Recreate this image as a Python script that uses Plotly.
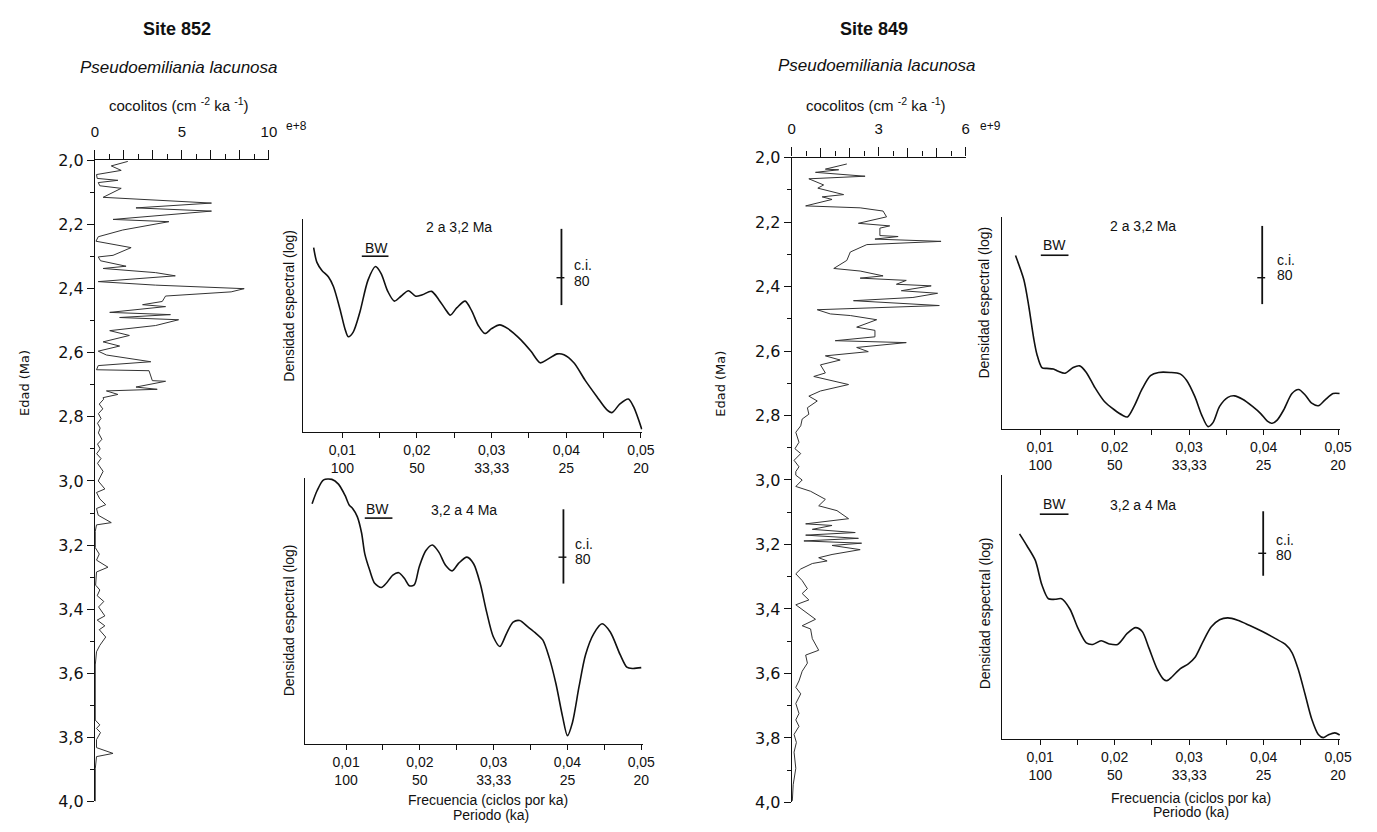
import plotly.graph_objects as go

# ---------------- DATA ----------------
# Site 852 record: age (Ma) and coccolith flux (x1e8 cm-2 ka-1)
site852_age = [2.003, 2.017, 2.031, 2.044, 2.056, 2.062, 2.069, 2.079, 2.087, 2.115,
               2.133, 2.148, 2.158, 2.184, 2.191, 2.217, 2.238, 2.252, 2.272, 2.296,
               2.301, 2.313, 2.330, 2.337, 2.350, 2.360, 2.378, 2.389, 2.400, 2.410,
               2.423, 2.440, 2.450, 2.456, 2.474, 2.481, 2.490, 2.497, 2.515, 2.531,
               2.546, 2.566, 2.579, 2.595, 2.607, 2.628, 2.640, 2.653, 2.656, 2.687,
               2.689, 2.707, 2.714, 2.719, 2.730, 2.740, 2.745, 2.760, 2.775, 2.790,
               2.805, 2.820, 2.835, 2.850, 2.870, 2.885, 2.900, 2.915, 2.930, 2.945,
               2.970, 3.000, 3.025, 3.036, 3.056, 3.074, 3.086, 3.107, 3.130, 3.137,
               3.157, 3.208, 3.228, 3.247, 3.269, 3.284, 3.325, 3.340, 3.358, 3.376,
               3.393, 3.421, 3.434, 3.452, 3.464, 3.487, 3.513, 3.533, 3.574, 3.746,
               3.761, 3.772, 3.785, 3.807, 3.832, 3.850, 3.860, 3.898, 4.000]
site852_val = [1.89, 0.94, 1.51, 0.09, 0.13, 1.32, 0.19, 0.28, 1.51, 0.47,
               6.70, 2.36, 6.70, 1.04, 4.25, 1.60, 0.19, 0.06, 2.08, 1.04,
               0.19, 0.32, 1.79, 0.47, 3.49, 4.62, 0.19, 3.49, 8.58, 7.83,
               4.06, 3.87, 2.74, 4.06, 0.85, 4.34, 1.42, 4.81, 3.49, 0.85,
               1.98, 0.47, 1.42, 0.19, 0.66, 3.21, 0.19, 0.09, 3.11, 3.30,
               4.06, 2.36, 3.58, 0.66, 1.32, 0.47, 0.50, 0.25, 0.45, 0.20,
               0.35, 0.15, 0.30, 0.20, 0.40, 0.15, 0.30, 0.10, 0.35, 0.15,
               0.47, 0.19, 0.57, 0.09, 0.28, 0.62, 0.09, 0.19, 0.94, 0.09,
               0.02, 0.02, 0.25, 0.09, 0.75, 0.09, 0.04, 0.28, 0.13, 0.51,
               0.21, 0.57, 0.13, 0.57, 0.25, 0.62, 0.28, 0.09, 0.02, 0.02,
               0.28, 0.09, 0.32, 0.09, 0.09, 1.04, 0.09, 0.02, 0.02]

# Site 849 record: age (Ma) and coccolith flux (x1e9 cm-2 ka-1)
site849_age = [2.020, 2.036, 2.038, 2.046, 2.058, 2.066, 2.085, 2.095, 2.115, 2.122,
               2.130, 2.150, 2.156, 2.166, 2.184, 2.204, 2.212, 2.219, 2.242, 2.245,
               2.253, 2.260, 2.270, 2.293, 2.319, 2.344, 2.352, 2.367, 2.374, 2.381,
               2.393, 2.398, 2.413, 2.421, 2.434, 2.444, 2.459, 2.472, 2.485, 2.490,
               2.503, 2.526, 2.536, 2.556, 2.568, 2.574, 2.589, 2.602, 2.615, 2.628,
               2.643, 2.668, 2.679, 2.704, 2.724, 2.740, 2.755, 2.776, 2.796, 2.811,
               2.832, 2.852, 2.883, 2.903, 2.918, 2.939, 2.959, 2.974, 2.985, 3.000,
               3.020, 3.035, 3.060, 3.080, 3.095, 3.120, 3.136, 3.141, 3.153, 3.163,
               3.171, 3.181, 3.189, 3.196, 3.203, 3.216, 3.231, 3.241, 3.251, 3.259,
               3.276, 3.291, 3.312, 3.337, 3.352, 3.372, 3.387, 3.432, 3.452, 3.462,
               3.492, 3.528, 3.543, 3.568, 3.593, 3.623, 3.643, 3.663, 3.693, 3.724,
               3.744, 3.764, 3.789, 3.814, 3.844, 3.894, 3.945, 3.995]
site849_val = [1.90, 1.16, 1.62, 0.82, 2.53, 0.59, 1.10, 0.90, 1.79, 1.05,
               1.39, 0.48, 2.36, 3.15, 3.27, 2.30, 3.38, 3.04, 3.04, 3.67,
               2.87, 5.15, 2.59, 2.02, 1.90, 1.45, 2.36, 3.15, 2.36, 3.95,
               3.61, 4.81, 3.78, 5.03, 4.18, 2.13, 5.09, 0.88, 1.33, 2.02,
               2.93, 2.24, 2.87, 2.87, 1.50, 3.95, 2.24, 2.64, 1.16, 1.67,
               0.99, 1.16, 0.76, 1.96, 0.99, 0.59, 0.88, 0.54, 0.59, 0.36,
               0.31, 0.14, 0.25, 0.11, 0.31, 0.08, 0.25, 0.14, 0.14, 0.36,
               0.14, 0.65, 1.16, 0.93, 1.56, 1.96, 0.48, 1.39, 0.71, 2.19,
               0.48, 2.30, 0.42, 2.41, 1.39, 2.36, 1.39, 0.93, 1.22, 0.71,
               0.31, 0.14, 0.36, 0.54, 0.36, 0.59, 0.14, 0.82, 0.36, 0.65,
               0.71, 0.93, 0.48, 0.54, 0.36, 0.25, 0.14, 0.31, 0.14, 0.25,
               0.14, 0.25, 0.08, 0.16, 0.08, 0.14, 0.05, 0.02]

# Spectra (relative log spectral density, 0-100 of panel height)
spec852a_f = [0.00616, 0.0066, 0.00727, 0.00815, 0.00881, 0.00969, 0.01035, 0.0108, 0.01146, 0.01234,
              0.01344, 0.01445, 0.0152, 0.01609, 0.01697, 0.01785, 0.01886, 0.01983, 0.02072, 0.02195,
              0.02292, 0.0238, 0.02446, 0.02535, 0.02645, 0.02733, 0.02821, 0.0291, 0.02998, 0.03108,
              0.03218, 0.03395, 0.03527, 0.0365, 0.03747, 0.0388, 0.03968, 0.04101, 0.04255, 0.0441,
              0.04541, 0.0461, 0.04718, 0.0483, 0.0490, 0.0501]
spec852a_v = [87.0, 80.1, 76.3, 73.2, 68.7, 58.0, 48.8, 45.0, 47.2, 56.4,
              71.7, 78.1, 74.8, 66.4, 61.8, 64.1, 66.7, 64.1, 64.8, 66.4,
              62.5, 58.0, 55.2, 58.7, 61.8, 57.2, 50.3, 46.5, 48.8, 50.6,
              48.8, 43.4, 38.1, 32.7, 34.3, 36.9, 36.5, 32.7, 24.3, 16.7,
              10.6, 9.2, 13.3, 15.6, 12.0, 1.4]

spec852b_f = [0.0054, 0.00607, 0.00696, 0.00808, 0.00897, 0.00987, 0.01045, 0.01089, 0.01152, 0.0121,
              0.01254, 0.01321, 0.01388, 0.01478, 0.01545, 0.01634, 0.01714, 0.0179, 0.01857, 0.01924,
              0.01991, 0.0208, 0.0217, 0.02259, 0.02348, 0.02437, 0.02527, 0.02638, 0.02728, 0.02817,
              0.02906, 0.02995, 0.03085, 0.03174, 0.03263, 0.03353, 0.03464, 0.03576, 0.03665, 0.03754,
              0.03844, 0.03933, 0.0400, 0.04067, 0.04156, 0.04245, 0.04357, 0.04469, 0.0458, 0.04714,
              0.04804, 0.0488, 0.0500]
spec852b_v = [90.8, 95.7, 99.8, 100.0, 98.2, 93.9, 90.2, 89.0, 85.9, 79.8,
              71.8, 65.6, 60.7, 59.1, 60.7, 63.8, 64.7, 62.6, 59.8, 60.1,
              66.9, 73.0, 75.2, 72.4, 67.5, 65.4, 68.3, 70.6, 68.1, 60.7,
              49.7, 40.5, 36.8, 41.7, 46.0, 46.6, 44.2, 41.7, 39.3, 32.5,
              22.7, 10.4, 3.1, 8.0, 21.5, 33.7, 41.7, 45.4, 42.3, 33.7,
              29.0, 28.5, 28.8]

spec849a_f = [0.00668, 0.0078, 0.00845, 0.00912, 0.00956, 0.01022, 0.01088, 0.01177, 0.01243, 0.01332,
              0.01442, 0.0153, 0.01619, 0.01729, 0.01862, 0.01994, 0.02105, 0.02171, 0.0226, 0.0237,
              0.02481, 0.02591, 0.02746, 0.02878, 0.02967, 0.03077, 0.03166, 0.03254, 0.0332, 0.03409,
              0.0352, 0.03608, 0.03718, 0.03851, 0.03961, 0.0405, 0.04116, 0.04182, 0.04271, 0.04381,
              0.0447, 0.04558, 0.04646, 0.04735, 0.04823, 0.04934, 0.05020]
spec849a_v = [82.3, 70.8, 58.5, 43.1, 35.4, 29.2, 28.8, 28.5, 27.4, 26.5,
              29.2, 30.0, 26.9, 20.0, 13.1, 9.2, 6.6, 5.8, 10.8, 19.2,
              25.4, 26.9, 26.9, 26.2, 23.1, 15.4, 6.9, 1.2, 3.1, 10.8,
              15.1, 15.8, 14.2, 10.8, 7.4, 3.8, 2.8, 4.3, 9.2, 16.9,
              18.8, 16.2, 12.3, 11.1, 13.8, 16.9, 16.9]

spec849b_f = [0.00722, 0.00823, 0.00934, 0.01022, 0.0111, 0.01199, 0.01287, 0.01398, 0.01508, 0.01619,
              0.01707, 0.01818, 0.01928, 0.02039, 0.02171, 0.02282, 0.0237, 0.02459, 0.02569, 0.02657,
              0.02702, 0.02768, 0.02878, 0.02989, 0.03077, 0.03188, 0.03298, 0.03409, 0.0352, 0.03652,
              0.03807, 0.03984, 0.0416, 0.04293, 0.04381, 0.0447, 0.04558, 0.04646, 0.04735, 0.04801,
              0.04867, 0.04956, 0.05022]
spec849b_v = [78.1, 73.5, 68.0, 58.7, 53.4, 53.2, 53.4, 49.5, 42.1, 36.6,
              36.0, 37.4, 36.2, 36.0, 40.3, 42.4, 40.9, 34.7, 26.7, 22.7,
              22.2, 23.6, 26.7, 28.6, 31.0, 37.2, 42.7, 45.4, 46.1, 45.2,
              43.3, 40.9, 38.2, 36.0, 32.9, 26.1, 16.9, 7.6, 1.7, 0.5,
              1.5, 2.3, 1.5]

freq_ticks = [0.01, 0.02, 0.03, 0.04, 0.05]
freq_labels = ["0,01<br>100", "0,02<br>50", "0,03<br>33,33", "0,04<br>25", "0,05<br>20"]
freq_minor = [0.015, 0.025, 0.035, 0.045]

flux852_labeled = [0, 5, 10]
flux852_tall = [10/6, 20/6, 40/6, 50/6]
flux852_short = [5/6, 15/6, 25/6, 35/6, 45/6, 55/6]
flux849_labeled = [0, 3, 6]
flux849_tall = [1, 2, 4, 5]
flux849_short = [0.5, 1.5, 2.5, 3.5, 4.5, 5.5]

# ---------------- LAYOUT HELPERS ----------------
W, H = 1377, 832
def PX(x): return x / W
def PY(y): return 1 - y / H

SANS = "Liberation Sans, Arial, sans-serif"
DJV = "DejaVu Sans, Verdana, sans-serif"
INK = "#111111"

fig = go.Figure()

# records
fig.add_trace(go.Scatter(x=site852_val, y=site852_age, mode="lines",
                         line=dict(color="#333333", width=1), xaxis="x", yaxis="y",
                         showlegend=False, hoverinfo="skip"))
fig.add_trace(go.Scatter(x=site849_val, y=site849_age, mode="lines",
                         line=dict(color="#333333", width=1), xaxis="x4", yaxis="y4",
                         showlegend=False, hoverinfo="skip"))
# invisible carriers for the tall-tick overlay axes
fig.add_trace(go.Scatter(x=[None], y=[None], xaxis="x7", yaxis="y", showlegend=False, hoverinfo="skip"))
fig.add_trace(go.Scatter(x=[None], y=[None], xaxis="x8", yaxis="y4", showlegend=False, hoverinfo="skip"))
# spectra
for fx, fv, xa, ya in [(spec852a_f, spec852a_v, "x2", "y2"),
                       (spec852b_f, spec852b_v, "x3", "y3"),
                       (spec849a_f, spec849a_v, "x5", "y5"),
                       (spec849b_f, spec849b_v, "x6", "y6")]:
    fig.add_trace(go.Scatter(x=fx, y=fv, mode="lines",
                             line=dict(color="#111111", width=1.6, shape="spline", smoothing=0.8),
                             xaxis=xa, yaxis=ya, showlegend=False, hoverinfo="skip"))

def rec_x(dom_px, rng, tv, minor, anchor):
    return dict(domain=[PX(dom_px[0]), PX(dom_px[1])], range=rng, side="top", anchor=anchor,
                showline=True, linecolor=INK, linewidth=1.2, showgrid=False, zeroline=False,
                ticks="outside", ticklen=9, tickcolor=INK, tickwidth=1.2,
                tickvals=tv, ticktext=[str(v) for v in tv], ticklabelstandoff=7,
                minor=dict(tickvals=minor, ticks="outside", ticklen=5, tickcolor=INK, tickwidth=1.2),
                tickfont=dict(family=SANS, size=15, color=INK), fixedrange=True)

def tall_x(overlay, rng, tv, anchor):
    return dict(overlaying=overlay, range=rng, side="top", anchor=anchor,
                showline=False, showgrid=False, zeroline=False,
                ticks="outside", ticklen=9, tickcolor=INK, tickwidth=1.2,
                tickvals=tv, showticklabels=False, fixedrange=True)

def rec_y(dom_px, anchor):
    return dict(domain=[PY(dom_px[1]), PY(dom_px[0])], range=[4.0, 2.0], anchor=anchor,
                showline=True, linecolor=INK, linewidth=1.2, showgrid=False, zeroline=False,
                ticks="outside", ticklen=7, tickcolor=INK, tickwidth=1.2,
                tick0=2.0, dtick=0.2, tickformat=".1f",
                minor=dict(dtick=0.1, ticks="outside", ticklen=4, tickcolor=INK, tickwidth=1.2),
                tickfont=dict(family=DJV, size=16, color=INK), fixedrange=True)

def spec_x(dom_px, rng, anchor):
    return dict(domain=[PX(dom_px[0]), PX(dom_px[1])], range=rng, anchor=anchor,
                showline=True, linecolor=INK, linewidth=1.2, showgrid=False, zeroline=False,
                ticks="outside", ticklen=5, tickcolor=INK, tickwidth=1.2,
                tickvals=freq_ticks, ticktext=freq_labels,
                minor=dict(tickvals=freq_minor, ticks="outside", ticklen=5, tickcolor=INK, tickwidth=1.2),
                tickfont=dict(family=SANS, size=14, color=INK), fixedrange=True)

def spec_y(dom_px, anchor):
    return dict(domain=[PY(dom_px[1]), PY(dom_px[0])], range=[0, 100.5], anchor=anchor,
                showline=True, linecolor=INK, linewidth=1.2, showgrid=False, zeroline=False,
                showticklabels=False, ticks="", fixedrange=True)

layout = dict(
    width=W, height=H, margin=dict(l=0, r=0, t=0, b=0),
    paper_bgcolor="white", plot_bgcolor="white", separators=",.",
    xaxis=rec_x((92, 268), [0, 10], flux852_labeled, flux852_short, "y"),
    yaxis=rec_y((155, 811), "x"),
    xaxis7=tall_x("x", [0, 10], flux852_tall, "y"),
    xaxis2=spec_x((303, 646), [0.0048, 0.0502], "y2"),
    yaxis2=spec_y((215, 433), "x2"),
    xaxis3=spec_x((305, 647), [0.0045, 0.0503], "y3"),
    yaxis3=spec_y((480, 752), "x3"),
    xaxis4=rec_x((797, 973), [0, 6], flux849_labeled, flux849_short, "y4"),
    yaxis4=rec_y((152, 812), "x4"),
    xaxis8=tall_x("x4", [0, 6], flux849_tall, "y4"),
    xaxis5=spec_x((1010, 1352), [0.0049, 0.0503], "y5"),
    yaxis5=spec_y((213, 430), "x5"),
    xaxis6=spec_x((1010, 1352), [0.0049, 0.0503], "y6"),
    yaxis6=spec_y((477, 747), "x6"),
)
fig.update_layout(**layout)

ann = []
def T(text, x, y, size, xanchor="center", family=SANS, angle=0):
    ann.append(dict(text=text, x=PX(x), y=PY(y), xref="paper", yref="paper",
                    xanchor=xanchor, yanchor="middle", showarrow=False, textangle=angle,
                    font=dict(family=family, size=size, color=INK)))

T("<b>Site 852</b>", 175, 20, 18)
T("<i>Pseudoemiliania lacunosa</i>", 177, 60, 17)
T("cocolitos (cm <sup>-2</sup> ka <sup>-1</sup>)", 177, 98, 15)
T("e+8", 283, 120, 12, xanchor="left")
T("Edad (Ma)", 20, 383, 13, family=DJV, angle=-90)

T("<b>Site 849</b>", 880, 20, 18)
T("<i>Pseudoemiliania lacunosa</i>", 883, 58, 17)
T("cocolitos (cm <sup>-2</sup> ka <sup>-1</sup>)", 882, 98, 15)
T("e+9", 985, 120, 12, xanchor="left")
T("Edad (Ma)", 725, 384, 13, family=DJV, angle=-90)

for x, y in [(288, 304), (288, 626), (992, 300), (992, 618)]:
    T("Densidad espectral (log)", x, y, 14, angle=-90)

T("2 a 3,2 Ma", 460, 223, 14)
T("3,2 a 4 Ma", 465, 513, 14)
T("2 a 3,2 Ma", 1152, 222, 14)
T("3,2 a 4 Ma", 1152, 508, 14)

shapes = []
def L(x0, y0, x1, y1, w=1.6):
    shapes.append(dict(type="line", xref="paper", yref="paper",
                       x0=PX(x0), y0=PY(y0), x1=PX(x1), y1=PY(y1),
                       line=dict(color=INK, width=w)))

# BW labels with bandwidth bar
for cx, ty, x0, x1, uy in [(377, 245, 362, 389, 253), (378, 512, 365, 393, 521),
                           (1063, 242, 1049, 1077, 252), (1063, 507, 1048, 1077, 517)]:
    T("BW", cx, ty, 14)
    L(x0, uy, x1, uy)

# confidence-interval bars
for bx, yt, yb, ym, lx, y1, y2 in [(564, 225, 303, 275, 575, 262, 278),
                                   (566, 512, 588, 561, 576, 547, 563),
                                   (1273, 222, 302, 275, 1286, 257, 272),
                                   (1274, 514, 580, 557, 1285, 543, 559)]:
    L(bx, yt, bx, yb, 1.8)
    L(bx - 5, ym, bx + 3, ym, 1.4)
    T("c.i.", lx, y1, 14, xanchor="left")
    T("80", lx, y2, 14, xanchor="left")

T("Frecuencia (ciclos por ka)", 490, 809, 14)
T("Periodo (ka)", 493, 825, 14)
T("Frecuencia (ciclos por ka)", 1201, 807, 14)
T("Periodo (ka)", 1201, 822, 14)

fig.update_layout(annotations=ann, shapes=shapes)
fig.write_html("out.html")
